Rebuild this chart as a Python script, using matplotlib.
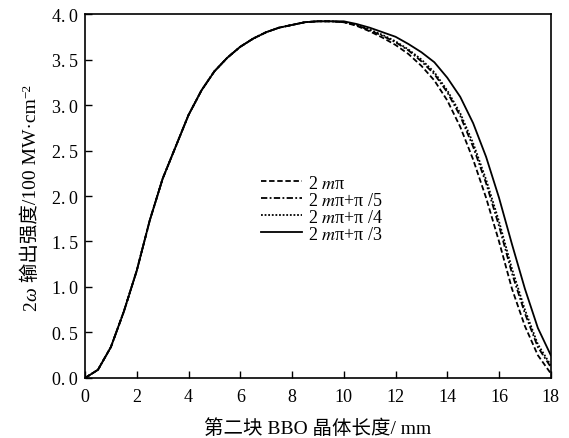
import numpy as np
import matplotlib
matplotlib.use("Agg")
import matplotlib.pyplot as plt
from matplotlib.transforms import IdentityTransform

plt.rcParams['font.family'] = ['Liberation Serif', 'Noto Sans CJK SC', 'DejaVu Serif']
plt.rcParams['mathtext.fontset'] = 'stix'

# crystal length (mm)
length = [0.0, 0.5, 1.0, 1.5, 2.0, 2.5, 3.0, 3.5, 4.0, 4.5, 5.0, 5.5, 6.0, 6.5,
          7.0, 7.5, 8.0, 8.5, 9.0, 9.5, 10.0, 10.5, 11.0, 11.5, 12.0, 12.5,
          13.0, 13.5, 14.0, 14.5, 15.0, 15.5, 16.0, 16.5, 17.0, 17.5, 18.0]

# common rising part (identical for all phases up to ~9.5 mm)
rise = [0.00, 0.09, 0.34, 0.73, 1.18, 1.73, 2.19, 2.54, 2.89, 3.16, 3.37,
        3.52, 3.64, 3.73, 3.80, 3.85, 3.88, 3.91, 3.92, 3.92]

fall_0 = [3.91, 3.87, 3.81, 3.74, 3.66, 3.56, 3.43, 3.27, 3.05, 2.76, 2.40,
          1.98, 1.50, 0.98, 0.57, 0.25, 0.05]
fall_pi5 = [3.91, 3.88, 3.82, 3.76, 3.69, 3.60, 3.48, 3.34, 3.14, 2.88, 2.54,
            2.14, 1.67, 1.15, 0.71, 0.34, 0.12]
fall_pi4 = [3.91, 3.88, 3.83, 3.77, 3.70, 3.61, 3.50, 3.36, 3.16, 2.91, 2.58,
            2.18, 1.72, 1.20, 0.75, 0.37, 0.14]
fall_pi3 = [3.92, 3.89, 3.85, 3.80, 3.75, 3.67, 3.58, 3.47, 3.30, 3.09, 2.80,
            2.43, 1.98, 1.47, 0.98, 0.55, 0.25]

labels = ["2 $m$π", "2 $m$π+π /5", "2 $m$π+π /4", "2 $m$π+π /3"]
styles = [(0, (3.0, 1.5)), (0, (3.5, 1.3, 1.0, 1.3)), (0, (1.0, 1.0)), '-']

fig = plt.figure(figsize=(5.69, 4.39), dpi=100)
ax = fig.add_axes([0.1494, 0.1367, 0.8186, 0.8291])

for fall, ls, lab in zip([fall_0, fall_pi5, fall_pi4, fall_pi3], styles, labels):
    y = np.array(rise + fall)
    ax.plot(length, y, color='black', linestyle=ls, linewidth=1.3, label=lab)

ax.set_xlim(0, 18)
ax.set_ylim(0, 4.0)
ax.set_xticks(np.arange(0, 19, 2))
ax.set_yticks(np.arange(0, 4.01, 0.5))
ax.yaxis.set_major_formatter(
    matplotlib.ticker.FuncFormatter(lambda v, p: f"{v:.1f}".replace(".", ".\u2009")))
ax.tick_params(direction='in', length=5, width=1.0, labelsize=13,
               top=False, right=False)
ax.tick_params(axis='x', pad=7)
ax.tick_params(axis='y', pad=5)
for sp in ax.spines.values():
    sp.set_linewidth(1.2)

ax.set_xlabel("第二块 BBO 晶体长度/ mm", fontsize=14, labelpad=10)

ax.legend(loc='upper left', bbox_to_anchor=(0.35, 0.593), frameon=False,
          fontsize=13, handlelength=2.3, handletextpad=0.3,
          labelspacing=0.0, borderpad=0.2)

# y label assembled from pieces so that ω can be italic next to CJK text
fig.canvas.draw()
renderer = fig.canvas.get_renderer()
parts = [("2", dict(fontsize=14)),
         ("ω", dict(fontsize=14, style='italic')),
         (" 输出强度/100 MW·cm", dict(fontsize=14)),
         ("−2", dict(fontsize=9.5))]
xb, yb = 36, 128  # baseline start in pixels
for txt, kw in parts:
    dx = 6 if txt == "−2" else 0
    t = fig.text(xb - dx, yb, txt, rotation=90, rotation_mode='anchor',
                 ha='left', va='baseline', transform=IdentityTransform(), **kw)
    ext = t.get_window_extent(renderer)
    yb += ext.height

fig.savefig("out.png", dpi=100)
